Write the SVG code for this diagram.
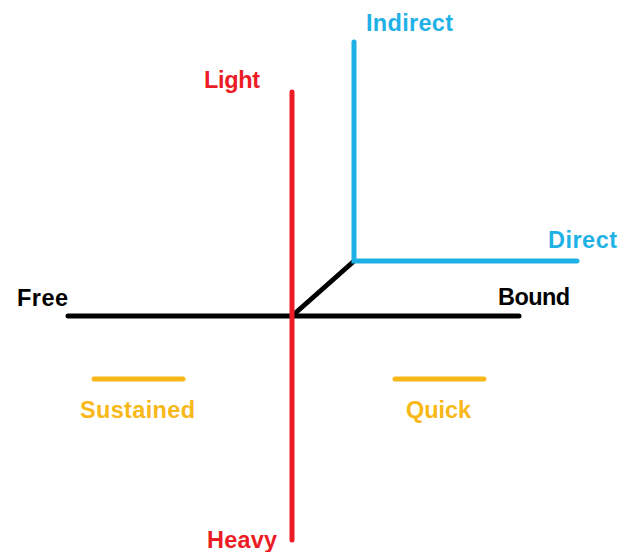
<svg xmlns="http://www.w3.org/2000/svg" width="626" height="552" viewBox="0 0 626 552">
<style>
text{font-family:"Liberation Sans",Arial,sans-serif;font-weight:bold;font-size:23.5px}
.red{stroke:#ec1c24;fill:none}
.blue{stroke:#1fb1e6;fill:none}
.blk{stroke:#000;fill:none}
.yel{stroke:#f8b818;fill:none}
.l{stroke-width:5;stroke-linecap:round;stroke-linejoin:miter}
</style>
<rect width="626" height="552" fill="#fff"/>
<g id="connectors">
<line class="l blk" x1="68" y1="316" x2="519" y2="316"/>
<line class="l blk" x1="292" y1="316" x2="353" y2="262"/>
<line class="l red" x1="292" y1="92" x2="292" y2="540"/>
<polyline class="l blue" points="354,42 354,261 577,261"/>
<line class="l yel" x1="94" y1="379" x2="183" y2="379"/>
<line class="l yel" x1="395" y1="379" x2="484" y2="379"/>
</g>
<g id="light"><text x="204" y="88" fill="#ec1c24" textLength="56">Light</text></g>
<g id="heavy"><text x="207" y="548" fill="#ec1c24" textLength="70">Heavy</text></g>
<g id="indirect"><text x="366" y="31" fill="#1fb1e6" textLength="87">Indirect</text></g>
<g id="direct"><text x="548" y="248" fill="#1fb1e6" textLength="69">Direct</text></g>
<g id="free"><text x="17" y="306" fill="#000" textLength="51">Free</text></g>
<g id="bound"><text x="498" y="305" fill="#000" textLength="72">Bound</text></g>
<g id="sustained"><text x="80" y="418" fill="#f8b818" textLength="115">Sustained</text></g>
<g id="quick"><text x="406" y="418" fill="#f8b818" textLength="65">Quick</text></g>
</svg>
